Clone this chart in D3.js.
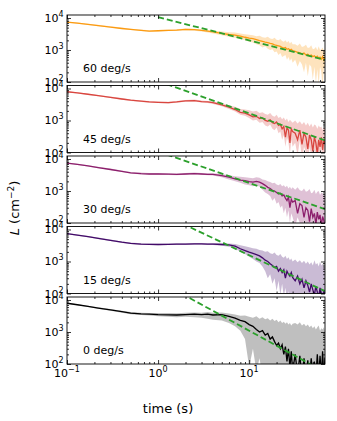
<!DOCTYPE html>
<html>
<head>
<meta charset="utf-8">
<script src="https://cdn.jsdelivr.net/npm/d3@7"></script>
<style>
  body { margin: 0; background: #fff; }
  svg { display: block; font-family: "DejaVu Sans", sans-serif; }
  .tick line { stroke: #000; stroke-width: 0.8; }
</style>
</head>
<body>
<svg id="chart" width="337" height="421"></svg>
<script>
// time samples (s)
const times = [0.1, 0.13, 0.17, 0.22, 0.3, 0.4, 0.5, 0.65, 0.8, 1, 1.3, 1.6, 2, 2.5, 3, 3.5, 4, 5, 6, 7, 8, 9,
  10, 11, 12, 13, 14, 15, 16, 17, 18, 19, 20, 21, 22, 23, 24, 25, 26, 27, 28, 29, 30,
  32, 34, 36, 38, 40, 42, 44, 46, 48, 50, 52, 54, 56, 58, 60, 62, 64, 66, 68];

const panelLabels = ["60 deg/s", "45 deg/s", "30 deg/s", "15 deg/s", "0 deg/s"];

// 60 deg/s
const med60 = [7400, 6900, 6300, 5800, 5200, 4700, 4400, 4100, 3900, 4000, 4100, 4200, 4400, 4300, 4100, 3900, 3700, 3300, 3050, 2900, 2700, 2500,
  2350, 2250, 2100, 1950, 1850, 1750, 1700, 1600, 1550, 1450, 1400, 1350, 1300, 1200, 1150, 1200, 1050, 1100, 1000, 1050, 950,
  900, 850, 820, 760, 800, 700, 740, 660, 700, 620, 660, 580, 640, 560, 600, 520, 620, 480, 560];
const lo60 = [7100, 6600, 6000, 5500, 5000, 4500, 4200, 3900, 3700, 3800, 3900, 4000, 4100, 4000, 3800, 3500, 3300, 2900, 2600, 2400, 2200, 2000,
  1800, 1700, 1500, 1400, 1200, 1300, 1100, 1000, 1050, 850, 900, 700, 800, 600, 650, 700, 500, 600, 450, 550, 400,
  500, 300, 450, 350, 200, 400, 150, 350, 300, 120, 300, 90, 250, 80, 300, 200, 60, 250, 300];
const hi60 = [7700, 7200, 6600, 6100, 5500, 5000, 4650, 4350, 4150, 4250, 4350, 4450, 4700, 4600, 4400, 4250, 4100, 3800, 3600, 3500, 3300, 3100,
  3000, 2900, 2700, 2800, 2500, 2400, 2600, 2300, 2200, 2400, 2100, 2000, 2200, 1900, 1800, 2000, 1700, 1900, 1600, 1800, 1500,
  1500, 1350, 1600, 1250, 1300, 1450, 1150, 1200, 1400, 1050, 1100, 1250, 980, 1300, 1000, 1050, 1200, 950, 1050];

// 45 deg/s
const med45 = [7900, 7300, 6600, 6000, 5300, 4700, 4300, 4000, 3800, 3700, 3600, 3800, 4100, 4200, 3900, 3800, 3600, 3100, 2600, 2200, 1800, 1700,
  1500, 1300, 1350, 1150, 1200, 1000, 950, 1050, 850, 800, 900, 700, 750, 550, 650, 300, 600, 500, 200, 550, 450,
  400, 250, 500, 180, 400, 300, 130, 350, 250, 110, 300, 200, 90, 250, 150, 300, 120, 250, 180];
const lo45 = [7600, 7000, 6300, 5700, 5000, 4450, 4100, 3800, 3600, 3500, 3400, 3600, 3850, 3950, 3650, 3500, 3300, 2800, 2300, 1900, 1500, 1400,
  1200, 1000, 1050, 850, 900, 700, 650, 750, 550, 500, 600, 400, 450, 250, 350, 150, 300, 200, 90, 250, 150,
  200, 80, 250, 60, 150, 100, 50, 150, 80, 40, 120, 70, 40, 100, 60, 150, 50, 100, 70];
const hi45 = [8200, 7600, 6900, 6300, 5600, 5000, 4550, 4250, 4050, 3950, 3850, 4050, 4400, 4500, 4200, 4100, 3950, 3500, 3000, 2700, 2300, 2200,
  2100, 1900, 2000, 1700, 1800, 1600, 1500, 1700, 1400, 1300, 1500, 1200, 1300, 1100, 1250, 1000, 1150, 900, 1050, 950, 850,
  1000, 800, 950, 750, 900, 700, 850, 650, 800, 600, 750, 700, 550, 700, 600, 650, 500, 600, 550];

// 30 deg/s
const med30 = [7400, 6800, 6100, 5400, 4700, 4100, 3700, 3500, 3400, 3400, 3350, 3300, 3400, 3500, 3400, 3300, 3300, 3000, 2700, 2400, 2200, 2100,
  1950, 1900, 2000, 1900, 1700, 1500, 1300, 1200, 1050, 1000, 900, 800, 850, 700, 750, 600, 500, 650, 300, 550, 450,
  500, 200, 400, 350, 150, 300, 250, 110, 280, 150, 200, 90, 220, 130, 180, 80, 160, 120, 70];
const lo30 = [7100, 6500, 5800, 5150, 4500, 3900, 3500, 3300, 3200, 3200, 3150, 3100, 3200, 3300, 3200, 3100, 3050, 2700, 2300, 2000, 1800, 1600,
  1500, 1400, 1500, 1350, 1100, 900, 800, 700, 500, 600, 400, 450, 300, 350, 200, 300, 150, 250, 100, 200, 150,
  80, 150, 100, 60, 120, 70, 50, 100, 60, 40, 80, 50, 40, 70, 50, 40, 60, 40, 40];
const hi30 = [7700, 7100, 6400, 5700, 5000, 4350, 3950, 3750, 3650, 3650, 3600, 3550, 3650, 3750, 3650, 3600, 3600, 3400, 3100, 2900, 2800, 2700,
  2600, 2500, 2700, 2600, 2300, 2200, 2000, 1900, 1750, 1800, 1600, 1500, 1650, 1400, 1500, 1300, 1450, 1200, 1350, 1150, 1300,
  1100, 1300, 1050, 1000, 1200, 950, 1000, 1150, 850, 900, 1100, 800, 950, 1000, 750, 900, 850, 700, 800];

// 15 deg/s
const med15 = [7400, 6700, 6000, 5300, 4600, 4000, 3700, 3500, 3450, 3400, 3450, 3500, 3500, 3550, 3550, 3500, 3500, 3400, 3300, 3000, 2500, 2200,
  1950, 1800, 1650, 1500, 1300, 1100, 1000, 850, 750, 650, 700, 500, 600, 450, 550, 300, 500, 400, 350, 450, 320,
  250, 350, 200, 280, 150, 250, 180, 110, 200, 130, 90, 170, 110, 80, 150, 100, 70, 130, 90];
const lo15 = [7100, 6400, 5700, 5000, 4350, 3800, 3500, 3300, 3250, 3200, 3250, 3300, 3300, 3350, 3350, 3300, 3250, 3100, 2900, 2500, 2000, 1700,
  1400, 1200, 1000, 900, 700, 500, 300, 400, 200, 300, 120, 250, 90, 200, 80, 150, 60, 120, 50, 100, 60,
  80, 50, 70, 40, 60, 40, 50, 40, 40, 50, 40, 40, 60, 40, 40, 50, 40, 40, 40];
const hi15 = [7700, 7000, 6300, 5600, 4850, 4200, 3900, 3700, 3650, 3600, 3650, 3700, 3700, 3750, 3750, 3700, 3750, 3700, 3650, 3500, 3200, 3000,
  2800, 2600, 2500, 2300, 2200, 2000, 2100, 1800, 1700, 1900, 1600, 1500, 1700, 1400, 1300, 1500, 1200, 1350, 1100, 1250, 1000,
  1150, 950, 1100, 900, 1050, 850, 1000, 800, 950, 750, 1100, 800, 900, 700, 1000, 750, 850, 650, 700];

// 0 deg/s
const med0 = [7900, 7100, 6300, 5600, 4900, 4300, 3900, 3700, 3600, 3500, 3450, 3400, 3500, 3600, 3500, 3600, 3400, 3500, 3100, 2700, 2300, 2100,
  1700, 1500, 1200, 1000, 1100, 800, 900, 600, 700, 500, 380, 450, 300, 400, 200, 350, 120, 300, 80, 250, 60,
  200, 50, 180, 40, 150, 40, 130, 40, 150, 40, 120, 40, 200, 40, 180, 40, 250, 40, 160];
const lo0 = [7600, 6800, 6000, 5300, 4600, 4000, 3600, 3400, 3300, 3100, 3000, 2900, 3000, 2900, 2800, 2600, 2400, 2300, 1900, 1500, 1100, 600,
  80, 300, 60, 150, 40, 100, 40, 60, 40, 40, 40, 40, 40, 40, 40, 40, 40, 40, 40, 40, 40,
  40, 40, 40, 40, 40, 40, 40, 40, 40, 40, 40, 40, 40, 40, 40, 40, 40, 40, 40];
const hi0 = [8200, 7400, 6600, 5900, 5200, 4600, 4200, 4000, 3900, 3900, 3900, 3850, 4000, 4100, 4000, 4200, 4000, 4100, 3800, 3500, 3200, 3300,
  3000, 2800, 3100, 2600, 2900, 2500, 2700, 2300, 2600, 2200, 2400, 2000, 2300, 1900, 2100, 1800, 2000, 1700, 1900, 1600, 1800,
  1900, 1700, 2000, 1600, 1800, 1500, 1700, 1400, 1600, 1300, 1500, 1200, 1400, 1600, 1100, 1300, 1200, 1400, 1000];

// dashed power-law guide per panel: [time, L] at both ends
const guide60 = [[1, 10700], [68, 490]];
const guide45 = [[1, 17000], [68, 240]];
const guide30 = [[1, 17000], [68, 272]];
const guide15 = [[1, 35000], [68, 118]];
const guide0  = [[1, 40000], [68, 55]];

const xMajor = [0.1, 1, 10];
const xMinor = [0.2, 0.3, 0.4, 0.5, 0.6, 0.7, 0.8, 0.9, 2, 3, 4, 5, 6, 7, 8, 9, 20, 30, 40, 50, 60];
const yMajor = [100, 1000, 10000];
const yMinor = [200, 300, 400, 500, 600, 700, 800, 900, 2000, 3000, 4000, 5000, 6000, 7000, 8000, 9000];
const xTickExp = ["−1", "0", "1"];
const yTickExp = ["2", "3", "4"];

const panels = [
  { label: panelLabels[0], med: med60, lo: lo60, hi: hi60, guide: guide60, color: "#fb9b12" },
  { label: panelLabels[1], med: med45, lo: lo45, hi: hi45, guide: guide45, color: "#d9463f" },
  { label: panelLabels[2], med: med30, lo: lo30, hi: hi30, guide: guide30, color: "#8c1f6c" },
  { label: panelLabels[3], med: med15, lo: lo15, hi: hi15, guide: guide15, color: "#420a68" },
  { label: panelLabels[4], med: med0,  lo: lo0,  hi: hi0,  guide: guide0,  color: "#000000" }
];

const left = 67, right = 325, top0 = 15, step = 70.5, h = 67;
const svg = d3.select("#chart");

const x = d3.scaleLog().domain([0.1, 68]).range([left, right]);

const pow10 = (sel, e, sz) => {
  sel.append("tspan").text("10");
  sel.append("tspan").attr("dy", -5).attr("font-size", sz).text(e);
};

panels.forEach((p, i) => {
  const top = top0 + i * step;
  const y = d3.scaleLog().domain([100, 12400]).range([top + h, top]);
  const g = svg.append("g");

  g.append("clipPath").attr("id", `clip${i}`)
    .append("rect").attr("x", left).attr("y", top).attr("width", right - left).attr("height", h);

  const plot = g.append("g").attr("clip-path", `url(#clip${i})`);

  const area = d3.area()
    .x((d, k) => x(times[k]))
    .y0((d, k) => y(p.lo[k]))
    .y1((d, k) => y(p.hi[k]));

  plot.append("path")
    .datum(p.med)
    .attr("d", area)
    .attr("fill", p.color)
    .attr("fill-opacity", i === 4 ? 0.25 : 0.28);

  const line = d3.line()
    .x((d, k) => x(times[k]))
    .y(d => y(d));

  plot.append("path")
    .datum(p.med)
    .attr("d", line)
    .attr("fill", "none")
    .attr("stroke", p.color)
    .attr("stroke-width", 1.3);

  plot.append("path")
    .datum(p.guide)
    .attr("d", d3.line().x(d => x(d[0])).y(d => y(d[1])))
    .attr("fill", "none")
    .attr("stroke", "#2ca02c")
    .attr("stroke-width", 1.8)
    .attr("stroke-dasharray", "6,3");

  // ticks, all pointing inward
  const addAxis = (axis, tx, ty) => {
    const a = g.append("g").attr("transform", `translate(${tx},${ty})`).call(axis);
    a.select(".domain").remove();
  };
  [[xMajor, 4], [xMinor, 2]].forEach(([vals, len]) => {
    addAxis(d3.axisBottom(x).tickValues(vals).tickSize(-len).tickFormat(""), 0, top + h);
    addAxis(d3.axisTop(x).tickValues(vals).tickSize(-len).tickFormat(""), 0, top);
  });
  [[yMajor, 4], [yMinor, 2]].forEach(([vals, len]) => {
    addAxis(d3.axisLeft(y).tickValues(vals).tickSize(-len).tickFormat(""), left, 0);
    addAxis(d3.axisRight(y).tickValues(vals).tickSize(-len).tickFormat(""), right, 0);
  });

  g.append("rect")
    .attr("x", left).attr("y", top)
    .attr("width", right - left).attr("height", h)
    .attr("fill", "none").attr("stroke", "#000").attr("stroke-width", 0.9);

  yMajor.forEach((v, k) => {
    const t = g.append("text")
      .attr("x", left - 3.5)
      .attr("y", y(v) + 4)
      .attr("text-anchor", "end")
      .attr("font-size", 11);
    pow10(t, yTickExp[k], 8);
  });

  g.append("text")
    .attr("x", left + 16)
    .attr("y", top + h - 10)
    .attr("font-size", 11)
    .text(p.label);

  if (i === panels.length - 1) {
    xMajor.forEach((v, k) => {
      const t = g.append("text")
        .attr("x", x(v))
        .attr("y", top + h + 13)
        .attr("text-anchor", "middle")
        .attr("font-size", 11);
      pow10(t, xTickExp[k], 8);
    });
  }
});

svg.append("text")
  .attr("x", 168).attr("y", 413)
  .attr("text-anchor", "middle")
  .attr("font-size", 13)
  .text("time (s)");

const yl = svg.append("text")
  .attr("transform", "translate(19,208) rotate(-90)")
  .attr("text-anchor", "middle")
  .attr("font-size", 13);
yl.append("tspan").attr("font-style", "italic").text("L");
yl.append("tspan").text(" (cm");
yl.append("tspan").attr("dy", -5).attr("font-size", 9).text("−2");
yl.append("tspan").attr("dy", 5).text(")");
</script>
</body>
</html>
